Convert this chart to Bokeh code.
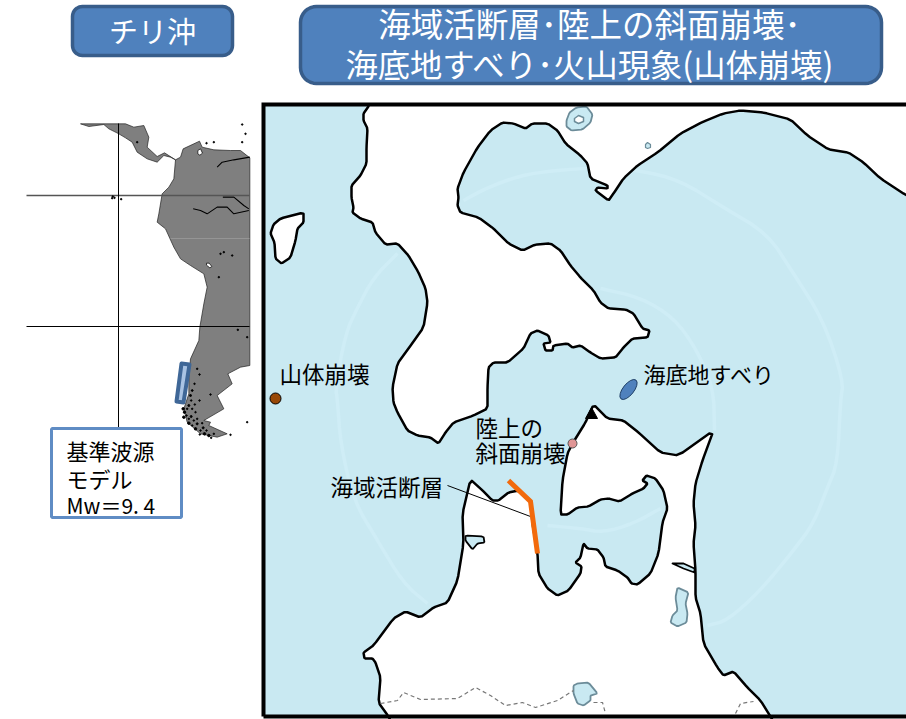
from bokeh.plotting import figure
from bokeh.models import Range1d
from bokeh.core.properties import value
from bokeh.embed import file_html
from bokeh.resources import INLINE
import math

FONT = value("Noto Sans CJK JP")

# ---- data: outlines, as (x, y) page positions ----
north_land = [(380,104),(368,104),(368,106),(363,113),(363,120),(367,128),(366,147),(366,163),(360,175),(351,185),(351,197),(353,207),(352,212),(360,218),(372,222),(375,232),(385,244),(397,243),(408,255),(418,272),(425,288),(427,302),(423,327),(408,348),(397,363),(392,387),(393,402),(397,412),(407,430),(417,435),(430,437),(438,443),(445,432),(453,422),(473,415),(487,408),(487,387),(488,367),(493,362),(507,362),(523,348),(530,333),(537,330),(548,335),(550,342),(543,343),(545,350),(552,350),(553,345),(567,343),(572,347),(580,345),(590,352),(600,358),(615,357),(623,347),(632,338),(647,337),(649,330),(642,328),(633,313),(625,309),(608,308),(600,302),(593,290),(580,277),(570,265),(560,250),(550,243),(535,244),(522,250),(508,243),(493,228),(478,217),(460,212),(457,205),(458,197),(457,188),(463,172),(477,147),(490,130),(502,122),(513,123),(525,128),(532,123),(547,123),(557,130),(565,143),(580,155),(587,163),(590,178),(607,185),(607,188),(597,187),(595,190),(608,200),(613,193),(623,178),(637,165),(657,152),(680,133),(703,121),(723,113),(740,110),(763,112),(790,119),(807,135),(828,149),(848,152),(863,162),(880,178),(906,195),(940,210),(940,104),(900,104)]
island = [(303,212),(280,218),(273,224),(270,233),(274,242),(275,258),(281,263),(290,257),(295,240),(297,228),(303,222)]
south_land = [(395,730),(388,716),(378,702),(380,677),(375,662),(372,658),(364,658),(363,652),(373,645),(393,618),(405,611),(420,617),(433,607),(447,602),(457,580),(463,543),(462,513),(470,479),(482,490),(492,500),(498,500),(508,492),(518,490),(530,500),(532,523),(537,553),(538,573),(547,588),(557,595),(568,590),(580,573),(581,566),(575,562),(580,557),(583,543),(587,548),(597,549),(603,557),(605,566),(617,570),(627,577),(631,583),(637,584),(650,573),(658,553),(662,522),(667,508),(663,490),(655,478),(646,475),(642,480),(647,483),(643,488),(632,493),(619,501),(608,498),(600,499),(588,506),(577,507),(567,514),(560,514),(562,480),(567,453),(572,443),(585,422),(593,404),(607,418),(623,420),(638,432),(660,452),(678,455),(713,430),(702,460),(695,483),(693,503),(695,525),(693,543),(695,570),(695,597),(700,613),(703,643),(717,667),(723,675),(733,671),(747,687),(760,700),(770,716),(778,730)]
lake_jusan = [(465,535),(483,536),(484,542),(477,543),(472,549),(465,540)]
lake_takahoko = [(672,563),(683,563),(694,568),(694,572),(683,568)]
lake_ogawara = [(677,587),(688,592),(685,603),(687,613),(686,622),(677,626),(670,622),(672,615),(677,610),(675,597)]
lake_towada = [(573,685),(577,683),(588,682),(597,693),(590,695),(590,700),(583,705),(577,703),(573,693)]
lake_toya = [(566,120),(569,112),(576,107),(586,106),(592,114),(590,122),(582,129),(571,130),(566,126)]
islet_toya = [(574,118),(578,115),(583,117),(583,121),(578,123),(574,121)]
lake_small = [(645,144),(647,142),(650,144),(650,147),(647,148),(645,147)]

boundary_a = [(380,703),(397,700),(403,692),(420,699),(457,698),(475,687),(490,695),(505,705),(522,702),(535,707),(557,700),(573,690)]
boundary_b = [(593,702),(602,702),(605,713)]
boundary_c = [(735,713),(740,703),(753,701)]

arc_outer_east = [(463,200),(487,187),(520,175),(553,170),(600,167),(640,170),(680,180),(723,207),(767,233),(793,273),(823,320),(843,380),(840,400),(837,463),(827,487),(813,523),(793,550),(760,590),(727,620),(707,625)]
arc_outer_west = [(397,253),(373,277),(357,307),(345,333),(335,387),(337,400),(340,443),(353,500),(377,540),(403,583),(427,603)]
arc_inner = [(600,288),(640,297),(673,317),(695,347),(713,387),(714,430)]
arc_bay = [(547,525),(580,528),(603,532),(633,523),(660,508)]

fault = [(508,480),(530,501),(537,553)]
leader = [(447,485),(530,516)]
volcano = [(591,407),(585,418),(597,418)]

# Left inset, traced at 3x from the page origin (0,100)
america = [(240,70),(375,70),(400,80),(430,75),(445,110),(440,140),(470,168),(492,157),(525,178),(540,170),(548,145),(580,130),(597,122),(605,140),(640,148),(690,150),(720,150),(748,172),(748,795),(720,800),(682,820),(695,850),(650,885),(670,925),(610,960),(630,965),(625,975),(680,1000),(650,1010),(600,1000),(560,965),(550,925),(565,880),(565,830),(570,775),(595,720),(598,680),(610,610),(620,560),(610,520),(570,495),(540,475),(520,440),(495,385),(470,365),(475,340),(485,280),(505,260),(520,235),(525,178),(510,170),(490,165),(470,185),(440,175),(410,155),(395,125),(375,112),(355,100),(325,85),(310,72),(265,78)]
river_a = [(650,200),(665,185),(700,178),(748,170)]
river_b = [(578,325),(600,330),(620,340),(650,320),(680,320),(700,340),(745,330)]
river_c = [(667,290),(700,290),(730,315),(745,325)]
maracaibo = [(592,150),(600,145),(606,158),(598,164),(592,160)]
titicaca = [(618,488),(626,488),(634,498),(628,502),(618,494)]
specks = [(337,288),(342,292),(335,293),(362,296),(725,72),(735,100),(725,125),(618,128),(640,125),(410,125),(670,455),(695,465),(660,460),(655,530),(712,688),(740,965),(690,1003),(590,805),(597,822),(582,850),(597,900),(630,882),(585,935),(575,870),(740,710)]
fjord = [(575,870),(570,885),(572,900),(565,915),(575,925),(583,912),(548,925),(552,935),(558,945),(550,950),(565,955),(572,948),(580,960),(565,968),(575,975),(590,970),(585,985),(600,990),(608,982),(612,1000),(625,1005),(632,1012),(640,1000),(618,990),(598,1002),(560,925),(590,955),(605,968)]
fjord_sizes = [1.5,2,1.5,2,1.5,1.5,2.5,2.5,1.5,2.5,1.5,2,1.5,2.5,1.5,2,2.5,1.5,2,2.5,2.5,1.5,1.5,1.5,1.5,1.5,1.5,1.5]
source_rect = [(181,363),(189,364),(183,402),(176,401)]

title_left = "チリ沖"
title_right = ["海域活断層･陸上の斜面崩壊･", "海底地すべり･火山現象(山体崩壊)"]
model_lines = ["基準波源", "モデル", "Mw＝9. 4"]
label_slide = "山体崩壊"
label_sub = "海底地すべり"
label_land = ["陸上の", "斜面崩壊"]
label_fault = "海域活断層"

SEA = "#c9e9f2"; ARC = "#cfedf6"; BLUE = "#4f81bd"; EDGE = "#385d8a"

def xs(pts): return [q[0] for q in pts]
def ys(pts): return [q[1] for q in pts]
def inset(pts): return [(a/3, 100+b/3) for a, b in pts]

def soft(pts, c=0.12):
    """Round the corners of a traced closed outline a little."""
    out = []
    n = len(pts)
    for i in range(n):
        a, b = pts[i], pts[(i+1) % n]
        out.append((a[0]+c*(b[0]-a[0]), a[1]+c*(b[1]-a[1])))
        out.append((b[0]-c*(b[0]-a[0]), b[1]-c*(b[1]-a[1])))
    return out

def soft_open(pts, c=0.25, rounds=2):
    for _ in range(rounds):
        out = [pts[0]]
        for a, b in zip(pts, pts[1:]):
            out.append((a[0]+c*(b[0]-a[0]), a[1]+c*(b[1]-a[1])))
            out.append((b[0]-c*(b[0]-a[0]), b[1]-c*(b[1]-a[1])))
        out.append(pts[-1])
        pts = out
    return pts

def rounded(x0, y0, x1, y1, r, n=8):
    out = []
    for cx, cy, start in [(x1-r, y0+r, -90), (x1-r, y1-r, 0), (x0+r, y1-r, 90), (x0+r, y0+r, 180)]:
        for i in range(n+1):
            t = math.radians(start + 90*i/n)
            out.append((cx + r*math.cos(t), cy + r*math.sin(t)))
    return out

p = figure(width=906, height=719, output_backend="svg", toolbar_location=None,
           x_range=Range1d(0, 906), y_range=Range1d(719, 0), min_border=0,
           x_axis_type=None, y_axis_type=None, outline_line_color=None,
           background_fill_color="white", border_fill_color="white")
p.grid.visible = False

def poly(pts, fill, line="black", w=2.5):
    p.patch(xs(pts), ys(pts), fill_color=fill, line_color=line, line_width=w, line_join="round")

def txt(x, y, s, size, color="black", align="left"):
    p.text([x], [y], text=[s], text_font=FONT, text_font_size=f"{size}px", text_color=color,
           text_align=align, text_baseline="middle")

# ---- left inset ----
am = inset(america)
p.patch(xs(am), ys(am), fill_color="#7f7f7f", line_color="#222222", line_width=0.7)
for r in (river_a, river_b, river_c):
    q = inset(r)
    p.line(xs(q), ys(q), line_color="black", line_width=1.1)
for l in (maracaibo, titicaca):
    q = inset(l)
    p.patch(xs(q), ys(q), fill_color="white", line_color="black", line_width=0.7)
p.line([26, 249], [195, 195], line_color="#555555", line_width=1.4)
p.line([26, 249], [326, 326], line_color="black", line_width=1)
p.line([118, 118], [123, 428], line_color="black", line_width=1)
p.line([170, 249], [238, 238], line_color="#9a9a9a", line_width=0.8)
sp = inset(specks)
p.scatter(xs(sp), ys(sp), size=1.5, color="black")
fj = inset(fjord)
p.scatter(xs(fj), ys(fj), size=fjord_sizes, color="black")
poly(source_rect, "#a9c3e3", "#3f6797", 4)
box = rounded(51, 428, 181, 517, 1, 2)
p.patch(xs(box), ys(box), fill_color="white", line_color="#5f8cc4", line_width=3)
for y, s, size in zip((449, 477, 504), model_lines, (22, 22, 21)):
    txt(66, y, s, size)

# ---- main map ----
p.quad(left=[263], right=[906], top=[104], bottom=[716], fill_color=SEA, line_color=None)
for arc in (arc_outer_east, arc_outer_west, arc_inner, arc_bay):
    q = soft_open(arc)
    p.line(xs(q), ys(q), line_color=ARC, line_width=3.5, line_join="round")
poly(soft(north_land), "white"); poly(soft(island), "white"); poly(soft(south_land), "white")
poly(soft(lake_jusan), SEA, "black", 1.8)
poly(lake_takahoko, SEA, "black", 1.8)
poly(soft(lake_ogawara), SEA, "#6c8c99", 1.8)
poly(soft(lake_towada), SEA, "#6c8c99", 1.8)
poly(soft(lake_toya), SEA, "#6c8c99", 1.8)
poly(islet_toya, "white", "#6c8c99", 1.5)
poly(lake_small, SEA, "#6c8c99", 1.2)
for b in (boundary_a, boundary_b, boundary_c):
    p.line(xs(b), ys(b), line_color="#777777", line_width=1.2, line_dash="4 3")
p.line(xs(leader), ys(leader), line_color="black", line_width=1)
p.line(xs(fault), ys(fault), line_color="#f26a0c", line_width=5, line_join="miter")
p.patch(xs(volcano), ys(volcano), fill_color="black", line_color="black", line_width=1)
p.scatter([275], [398], size=11, fill_color="#984807", line_color="black", line_width=1)
p.scatter([572], [443], size=9, fill_color="#e09595", line_color="#555555", line_width=1)
p.ellipse([628], [389], width=24, height=11, angle=0.9, fill_color=BLUE, line_color="#1f3f66", line_width=1)

txt(279, 372, label_slide, 22.5)
txt(643, 372, label_sub, 22)
txt(475, 426, label_land[0], 22.5)
txt(475, 451, label_land[1], 22.5)
txt(330, 485, label_fault, 22.5)

# frame
p.line([263, 263, 906], [716, 104, 104], line_color="black", line_width=4, line_join="miter")
p.line([263, 906], [716, 716], line_color="black", line_width=4)

# ---- header boxes ----
b1 = rounded(72, 6, 232, 55, 10)
p.patch(xs(b1), ys(b1), fill_color=BLUE, line_color=EDGE, line_width=3.5)
b2 = rounded(300, 6, 881, 83, 16)
p.patch(xs(b2), ys(b2), fill_color=BLUE, line_color=EDGE, line_width=3.5)
txt(152, 29, title_left, 29, "white", "center")
txt(589, 22, title_right[0], 32.5, "white", "center")
txt(590, 62, title_right[1], 32.3, "white", "center")

open("out.html", "w").write(file_html(p, INLINE))
